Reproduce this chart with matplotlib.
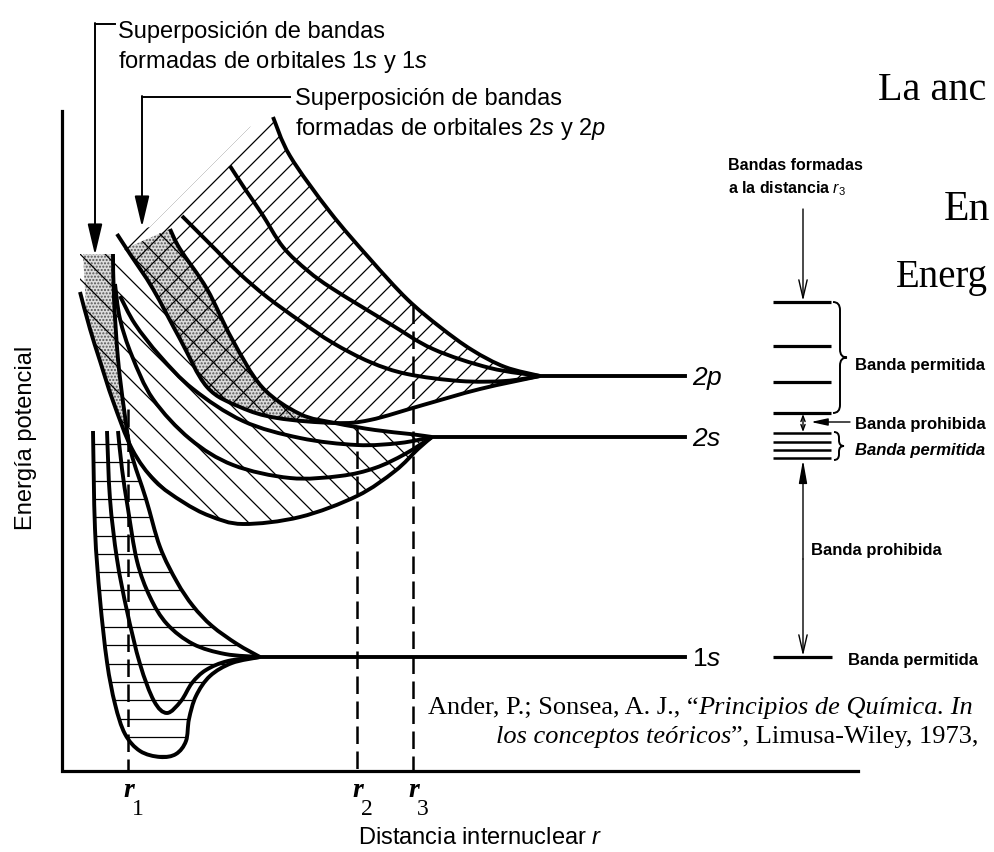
import numpy as np
import matplotlib.pyplot as plt
from matplotlib.path import Path
from matplotlib.patches import PathPatch
from matplotlib.collections import LineCollection

plt.rcParams['mathtext.fontset'] = 'custom'
plt.rcParams['mathtext.rm'] = 'Liberation Sans'
plt.rcParams['mathtext.it'] = 'Liberation Sans:italic'

SANS = ['Liberation Sans', 'DejaVu Sans']
SERIF = ['Liberation Serif', 'DejaVu Serif']

# --- curves (x, y in pixels, y pointing down) ---
# 1s band
c1s_outer = [(93, 432), (95, 530), (100, 600), (107, 663), (115, 705), (125, 735), (140, 752),
             (160, 758), (176, 755), (186, 742), (189, 720), (196, 697), (210, 677), (232, 664), (260, 658)]
c1s_dip = [(107, 432), (110, 500), (117, 560), (127, 612), (140, 665), (154, 702), (167, 714),
           (181, 702), (192, 684), (206, 671), (228, 662), (260, 658)]
c1s_mid = [(118, 432), (122, 470), (128, 510), (137, 562), (150, 598), (167, 625), (193, 645),
           (225, 655), (260, 658)]
c1s_top = [(113, 255), (114, 300), (118, 360), (124, 410), (131, 453), (146, 500), (160, 548),
           (177, 583), (193, 607), (212, 627), (237, 645), (260, 658)]
# 2s band
c2s_outer = [(80, 293), (90, 330), (100, 362), (113, 402), (132, 450), (155, 482), (183, 503),
             (210, 517), (243, 525), (300, 518), (357, 497), (395, 472), (418, 450), (432, 438)]
c2s_low = [(115, 285), (120, 320), (132, 357), (153, 400), (190, 440), (233, 466), (290, 479),
           (340, 477), (375, 469), (405, 455), (432, 438)]
c2s_mid = [(120, 297), (135, 325), (160, 357), (193, 390), (243, 422), (300, 439), (357, 446),
           (400, 444), (432, 438)]
c2s_top = [(170, 230), (180, 250), (207, 290), (232, 340), (262, 388), (300, 415), (335, 424),
           (375, 431), (410, 435), (432, 438)]
# 2p band
c2p_low = [(117, 235), (130, 255), (153, 290), (180, 340), (207, 388), (240, 408), (277, 419),
           (335, 424), (370, 421), (423, 406), (480, 390), (540, 377)]
c2p_b = [(182, 217), (200, 235), (217, 252), (240, 275), (267, 298), (300, 322), (333, 344),
         (370, 363), (407, 375), (460, 382), (505, 382), (540, 377)]
c2p_c = [(230, 167), (245, 190), (262, 215), (283, 248), (308, 272), (333, 290), (387, 323),
         (433, 350), (490, 369), (540, 377)]
c2p_top = [(273, 118), (290, 157), (330, 213), (370, 260), (407, 300), (440, 328), (472, 351),
           (505, 368), (540, 377)]

# upper-left edges of the hatched areas
edge_1s = [(83, 255)]
edge_2s = [(80, 255), (113, 255), (170, 230)]
edge_2p = [(117, 235), (150, 228), (250, 128), (273, 118)]

# atomic levels: (name, y, x where the curves meet)
levels = [('1$s$', 658, 260), ('2$s$', 438, 432), ('2$p$', 377, 540)]
level_end = 685

# internuclear distances r1, r2, r3
r_x = [128, 357, 413]
r_top = [410, 427, 307]
r_names = ['1', '2', '3']

# band diagram at r3
band_2p = [303, 347, 383, 414]
band_2s = [434, 443, 451, 459]
band_1s = [658]


def bez(pts):
    p = np.asarray(pts, float)
    e = np.vstack([p[0], p, p[-1]])
    v = [p[0]]
    for i in range(len(p) - 1):
        p0, p1, p2, p3 = e[i], e[i + 1], e[i + 2], e[i + 3]
        v += [p1 + (p2 - p0) / 6, p2 - (p3 - p1) / 6, p2]
    return v


def region(*segs):
    verts, codes = [], []
    for pts, smooth in segs:
        if smooth:
            v = bez(pts)
            c = [Path.CURVE4] * (len(v) - 1)
        else:
            v = [np.asarray(q, float) for q in pts]
            c = [Path.LINETO] * (len(v) - 1)
        codes += [Path.LINETO if codes else Path.MOVETO] + c
        verts += v
    verts.append(verts[0])
    codes.append(Path.CLOSEPOLY)
    return Path(verts, codes)


fig = plt.figure(figsize=(9.94, 8.53), dpi=100)
ax = fig.add_axes([0, 0, 1, 1])
ax.set_xlim(0, 994)
ax.set_ylim(853, 0)
ax.axis('off')

# band areas
p1s = PathPatch(region((edge_1s, False), (c1s_top, True), (c1s_outer[::-1], True)),
                fc='none', ec='none')
p2s = PathPatch(region((edge_2s, False), (c2s_top, True), (c2s_outer[::-1], True)),
                fc='none', ec='none')
p2p = PathPatch(region((edge_2p, False), (c2p_top, True), (c2p_low[::-1], True)),
                fc='none', ec='none')
for p in (p1s, p2s, p2p):
    ax.add_patch(p)

# stippled overlaps
for path in (p1s.get_path(), p2p.get_path()):
    dots = PathPatch(path, fc='#dcdcdc', ec='#555555', lw=0, hatch='.....', zorder=1)
    ax.add_patch(dots)
    dots.set_clip_path(p2s)

# hatching
seg_1s = [[(70, y), (300, y)] for y in np.arange(445, 765, 18.3)]
seg_2s = [[(60, 60 + c), (470, 470 + c)] for c in np.arange(0, 340, 25)]
seg_2p = [[(100, c - 100), (560, c - 560)] for c in np.arange(377, 930, 20)]
for segs, patch in ((seg_1s, p1s), (seg_2s, p2s), (seg_2p, p2p)):
    lc = LineCollection(segs, colors='k', linewidths=0.9, zorder=2)
    ax.add_collection(lc)
    lc.set_clip_path(patch)

# thick curves
for pts in (c1s_outer, c1s_dip, c1s_mid, c1s_top, c2s_outer, c2s_low, c2s_mid, c2s_top,
            c2p_low, c2p_b, c2p_c, c2p_top):
    v = bez(pts)
    ax.add_patch(PathPatch(Path(v, [Path.MOVETO] + [Path.CURVE4] * (len(v) - 1)),
                           fill=False, lw=2.8, ec='k', zorder=4, joinstyle='round'))

# levels
for name, y, x0 in levels:
    ax.plot([x0, level_end], [y, y], color='k', lw=2.8, zorder=4)
    ax.text(level_end + 7, y + 1, name, fontsize=19, family=SANS,
            fontstyle='normal' if name.startswith('1') else 'italic', va='center', ha='left')

# axes lines
ax.plot([62, 62, 858], [112, 772, 772], color='k', lw=2.3, zorder=4, solid_joinstyle='miter')
for x, yt, n in zip(r_x, r_top, r_names):
    ax.plot([x, x], [yt, 772], color='k', lw=1.8, dashes=(7, 3), zorder=3)
    ax.text(x - 5, 797, 'r', fontsize=20, family=SERIF, fontstyle='italic', fontweight='bold',
            ha='left', va='baseline')
    ax.text(x + 4, 815, n, fontsize=17, family=SERIF, ha='left', va='baseline')
ax.text(480, 838, 'Distancia internuclear $r$', fontsize=17, family=SANS, ha='center', va='center')
ax.text(26, 438, 'Energía potencial', fontsize=17, family=SANS, rotation=90, ha='center', va='center')

# annotations at the top
ax.text(118, 68, 'Superposición de bandas\nformadas de orbitales 1$s$ y 1$s$', fontsize=17,
        family=SANS, ha='left', va='baseline', linespacing=1.3)
ax.plot([95, 115], [25, 25], color='k', lw=1.4)
ax.annotate('', xy=(95, 256), xytext=(95, 24),
            arrowprops=dict(arrowstyle='-|>,head_length=1.9,head_width=0.45', lw=1.4, color='k',
                            shrinkA=0, shrinkB=0))
ax.text(295, 135, 'Superposición de bandas\nformadas de orbitales 2$s$ y 2$p$', fontsize=17,
        family=SANS, ha='left', va='baseline', linespacing=1.3)
ax.plot([142, 290], [98, 98], color='k', lw=1.4)
ax.annotate('', xy=(142, 228), xytext=(142, 97),
            arrowprops=dict(arrowstyle='-|>,head_length=1.9,head_width=0.45', lw=1.4, color='k',
                            shrinkA=0, shrinkB=0))

# band diagram at r3
ax.hlines(band_2p, 773, 831, colors='k', lw=2.3)
ax.hlines(band_2s, 773, 831, colors='k', lw=1.8)
ax.hlines(band_1s, 773, 832, colors='k', lw=2.3)
ax.text(728, 170, 'Bandas formadas', fontsize=11.5, family=SANS, fontweight='bold', va='baseline')
ax.text(728, 193, 'a la distancia $r_3$', fontsize=11.5, family=SANS, fontweight='bold', va='baseline')
thin = dict(lw=1.0, color='k', shrinkA=0, shrinkB=0)
ax.annotate('', xy=(803, 302), xytext=(803, 210), arrowprops=dict(arrowstyle='->,head_length=1.3,head_width=0.3', **thin))
ax.annotate('', xy=(803, 461), xytext=(803, 560), arrowprops=dict(arrowstyle='-|>,head_length=1.4,head_width=0.25', **thin))
ax.annotate('', xy=(803, 657), xytext=(803, 560), arrowprops=dict(arrowstyle='->,head_length=1.3,head_width=0.3', **thin))
ax.annotate('', xy=(803, 433), xytext=(803, 415), arrowprops=dict(arrowstyle='<->,head_length=0.4,head_width=0.15', **thin))
ax.annotate('', xy=(811, 423), xytext=(850, 423), arrowprops=dict(arrowstyle='-|>,head_length=1.0,head_width=0.22', **thin))


def brace(x, y0, y1, w):
    ym, h = (y0 + y1) / 2, w / 2
    q = min(8, (y1 - y0) / 5)
    verts = [(x, y0), (x + h, y0), (x + h, y0 + q), (x + h, ym - q), (x + h, ym), (x + w, ym),
             (x + h, ym), (x + h, ym + q), (x + h, y1 - q), (x + h, y1), (x, y1)]
    codes = [Path.MOVETO, Path.CURVE3, Path.CURVE3, Path.LINETO, Path.CURVE3, Path.CURVE3,
             Path.CURVE3, Path.CURVE3, Path.LINETO, Path.CURVE3, Path.CURVE3]
    ax.add_patch(PathPatch(Path(verts, codes), fill=False, lw=1.4, ec='k'))


brace(833, 303, 414, 14)
brace(834, 433, 461, 10)
small = dict(fontsize=12, family=SANS, fontweight='bold', va='center', ha='left')
ax.text(855, 365, 'Banda permitida', **small)
ax.text(855, 425, 'Banda prohibida', **small)
ax.text(855, 451, 'Banda permitida', fontstyle='italic', **small)
ax.text(811, 551, 'Banda prohibida', **small)
ax.text(848, 661, 'Banda permitida', **small)

# overlapping slide text and citation
ax.text(878, 100, 'La anc', fontsize=29, family=SERIF, va='baseline')
ax.text(944, 220, 'En', fontsize=30, family=SERIF, va='baseline')
ax.text(896, 287, 'Energ', fontsize=28, family=SERIF, va='baseline')
t1 = ax.text(428, 714, 'Ander, P.; Sonsea, A. J., “', fontsize=19, family=SERIF, va='baseline')
ax.annotate('Principios de Química. In', xy=(1, 0), xycoords=t1, va='bottom', ha='left',
            fontsize=19, family=SERIF, fontstyle='italic')
t3 = ax.text(496, 743, 'los conceptos teóricos', fontsize=19, family=SERIF, fontstyle='italic',
             va='baseline')
ax.annotate('”, Limusa-Wiley, 1973,', xy=(1, 0), xycoords=t3, va='bottom', ha='left',
            fontsize=19, family=SERIF)

fig.savefig('out.png', dpi=100)
